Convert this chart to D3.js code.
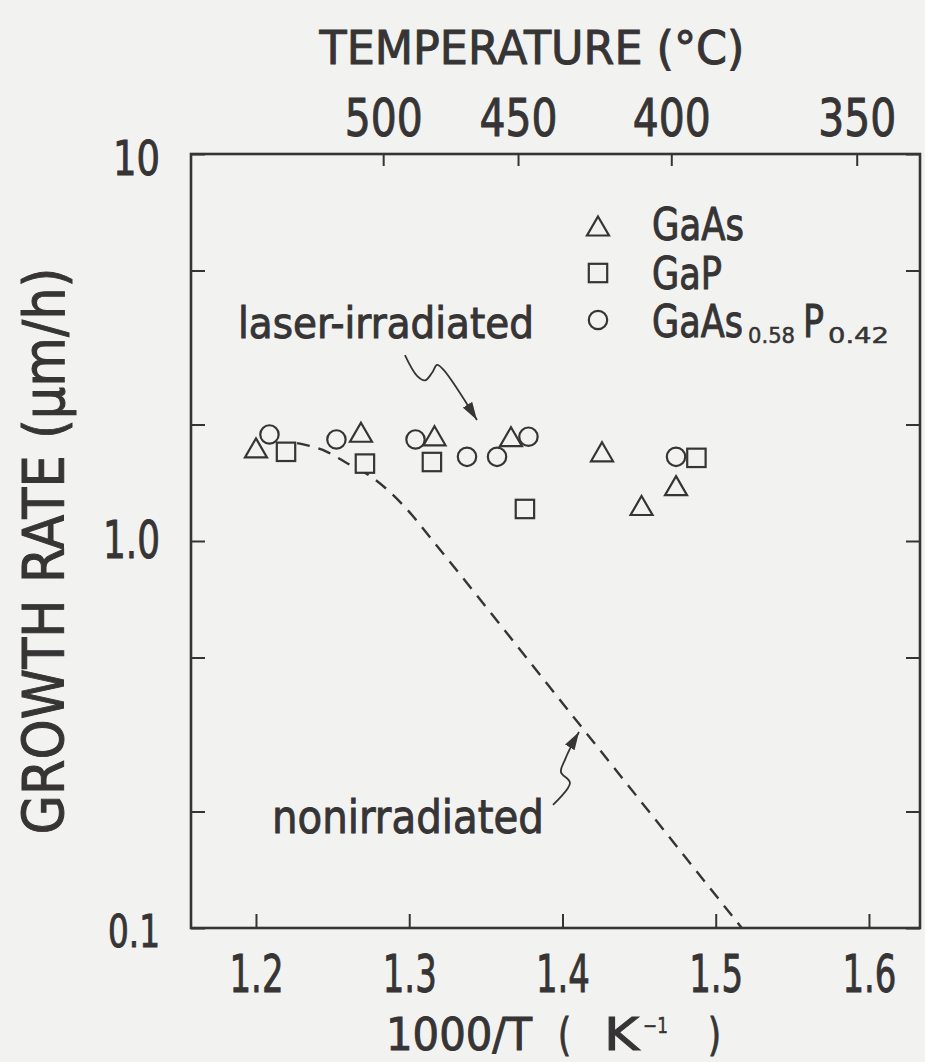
<!DOCTYPE html>
<html>
<head>
<meta charset="utf-8">
<script src="https://cdn.jsdelivr.net/npm/d3@7"></script>
<style>
  html, body { margin: 0; padding: 0; background: #f2f2f0; }
  svg { display: block; }
  text { font-family: "DejaVu Sans", sans-serif; fill: #363434; stroke: #363434; stroke-width: 1px; }
  text.small { stroke-width: 0.5px; }
</style>
</head>
<body>
<svg id="chart" width="925" height="1062"></svg>
<script>
// ── Data: [1000/T (1/K), growth rate (µm/h)] ──
const gaAs = [
  [1.2000, 1.74], [1.2685, 1.91], [1.3165, 1.87], [1.3664, 1.86],
  [1.4258, 1.70], [1.4516, 1.235], [1.4741, 1.39],
];
const gaP = [
  [1.2196, 1.70], [1.2711, 1.585], [1.3148, 1.60], [1.3755, 1.21], [1.4874, 1.64],
];
const gaAsP = [
  [1.2088, 1.885], [1.2525, 1.83], [1.3041, 1.83], [1.3377, 1.65],
  [1.3573, 1.65], [1.3778, 1.86], [1.4741, 1.65],
];
// dashed "nonirradiated" curve
const nonIrradiated = [
  [1.2268, 1.79], [1.2463, 1.70], [1.2581, 1.60], [1.2763, 1.455],
  [1.3018, 1.167], [1.3103, 1.061], [1.41, 0.34], [1.517, 0.1],
];
// annotation arrows (tail -> tip)
const laserArrow = [
  [1.2972, 3.02], [1.3051, 2.67], [1.3103, 2.60], [1.3149, 2.72],
  [1.3181, 2.85], [1.3220, 2.78], [1.3442, 2.054],
];
const nonArrow = [
  [1.3938, 0.208], [1.4049, 0.237], [1.3990, 0.253], [1.4016, 0.272],
  [1.4068, 0.301], [1.4108, 0.321],
];

// ── Axis ticks / labels ──
const xTicks = [1.2, 1.3, 1.4, 1.5, 1.6];
const yTicks = [0.1, 0.2, 0.5, 1, 2, 5, 10];
const yTickLabels = { 0.1: "0.1", 1: "1.0", 10: "10" };
const tempLabels = ["500", "450", "400", "350"];
const tempTickPos = [1.283, 1.371, 1.471, 1.592]; // where the °C ticks sit on the 1000/T axis

const ink = "#363434";
const paper = "#f2f2f0";

const svg = d3.select("#chart");
const frame = { left: 191, right: 920, top: 154, bottom: 928 };

const x = d3.scaleLinear().domain([1.1576, 1.6333]).range([frame.left, frame.right]);
const y = d3.scaleLog().domain([0.1, 10]).range([frame.bottom, frame.top]);

// squeeze text horizontally to a given width (the original lettering is narrow)
function fit(sel, w) {
  sel.each(function () {
    const t = d3.select(this);
    const len = this.getComputedTextLength();
    if (!len) return;
    const s = w / len;
    const tx = +t.attr("x") || 0, ty = +t.attr("y") || 0;
    const prev = t.attr("transform") || "";
    t.attr("transform", `${prev} translate(${tx},${ty}) scale(${s},1) translate(${-tx},${-ty})`);
  });
}

function label(txt, px, py, size, w, cls) {
  return svg.append("text").text(txt)
    .attr("x", px).attr("y", py).attr("font-size", size)
    .attr("class", cls || null)
    .call(fit, w);
}

function styleAxis(g, fontSize) {
  g.select(".domain").remove();
  g.selectAll(".tick line").attr("stroke", ink).attr("stroke-width", 2);
  g.attr("font-family", "DejaVu Sans").attr("font-size", fontSize);
  g.selectAll(".tick text").attr("fill", ink);
}

// ── Bottom axis ──
const gBottom = svg.append("g")
  .attr("transform", `translate(0,${frame.bottom})`)
  .call(d3.axisBottom(x).tickValues(xTicks).tickSize(-14).tickPadding(27)
    .tickFormat(d3.format(".1f")));
styleAxis(gBottom, 52);
gBottom.selectAll(".tick text").each(function () { fit(d3.select(this), 54); });

// ── Top axis (temperature) ──
const gTop = svg.append("g")
  .attr("transform", `translate(0,${frame.top})`)
  .call(d3.axisTop(x).tickValues(tempTickPos).tickSize(-12).tickPadding(18)
    .tickFormat((d, i) => tempLabels[i]));
styleAxis(gTop, 52);
gTop.selectAll(".tick text").each(function () { fit(d3.select(this), 78); });

// ── Left axis ──
const gLeft = svg.append("g")
  .attr("transform", `translate(${frame.left},0)`)
  .call(d3.axisLeft(y).tickValues(yTicks).tickSize(-14).tickPadding(31)
    .tickFormat(d => yTickLabels[d] || ""));
styleAxis(gLeft, 52);
gLeft.selectAll(".tick text").each(function (d) {
  const t = d3.select(this);
  if (d === 10) { t.attr("font-size", 48).attr("dy", "0.42em"); fit(t, 47); }
  else if (d === 1) { fit(t, 57); }
  else if (d === 0.1) { t.attr("font-size", 44).attr("dy", "0.42em"); fit(t, 52); }
});

// ── Right axis (ticks only) ──
const gRight = svg.append("g")
  .attr("transform", `translate(${frame.right},0)`)
  .call(d3.axisRight(y).tickValues(yTicks).tickSize(-14).tickFormat(""));
styleAxis(gRight, 10);

// ── Frame ──
svg.append("rect")
  .attr("x", frame.left).attr("y", frame.top)
  .attr("width", frame.right - frame.left).attr("height", frame.bottom - frame.top)
  .attr("fill", "none").attr("stroke", ink).attr("stroke-width", 2.6);

// ── Axis titles ──
svg.append("text").text("TEMPERATURE (°C)")
  .attr("x", 532).attr("y", 64).attr("text-anchor", "middle")
  .attr("font-size", 47).call(fit, 425);

// 1000/T ( K^-1 ) built from pieces so the superscript sits right
label("1000/T", 386, 1050, 44, 146);
label("(", 558, 1050, 44, 13);
label("K", 604, 1050, 44, 35);
label("−1", 643, 1033, 22, 25, "small");
label(")", 708, 1050, 44, 13);

svg.append("text").text("GROWTH RATE (μm/h)")
  .attr("transform", "translate(64,551) rotate(-90)")
  .attr("text-anchor", "middle")
  .attr("font-size", 57).call(fit, 567);

// ── Dashed nonirradiated curve ──
const line = d3.line().x(d => x(d[0])).y(d => y(d[1]));
svg.append("path")
  .datum(nonIrradiated)
  .attr("d", line.curve(d3.curveMonotoneX))
  .attr("fill", "none").attr("stroke", ink)
  .attr("stroke-width", 2.4).attr("stroke-dasharray", "13,9");

// ── Annotation arrows ──
svg.append("defs").append("marker")
  .attr("id", "head").attr("markerUnits", "userSpaceOnUse")
  .attr("viewBox", "-18 -6 20 12").attr("refX", 0).attr("refY", 0)
  .attr("markerWidth", 20).attr("markerHeight", 12).attr("orient", "auto")
  .append("path").attr("d", "M0,0 L-18,-5.5 L-18,5.5 Z").attr("fill", ink);

const arrowLine = d3.line().x(d => x(d[0])).y(d => y(d[1])).curve(d3.curveCatmullRom);
[laserArrow, nonArrow].forEach(pts => {
  svg.append("path")
    .datum(pts)
    .attr("d", arrowLine)
    .attr("fill", "none").attr("stroke", ink).attr("stroke-width", 1.8)
    .attr("marker-end", "url(#head)");
});

label("laser-irradiated", 238, 338, 43, 296);
label("nonirradiated", 272, 833, 47, 272);

// ── Markers ──
const symbols = {
  triangle: g => g.append("path").attr("d", "M0,-9.5 L11,9.5 L-11,9.5 Z"),
  square: g => g.append("rect").attr("x", -9.2).attr("y", -9.2).attr("width", 18.4).attr("height", 18.4),
  circle: g => g.append("circle").attr("r", 9.2),
};

function drawSeries(data, shape) {
  svg.append("g").selectAll("g")
    .data(data).join("g")
    .attr("transform", d => `translate(${x(d[0])},${y(d[1])})`)
    .each(function () {
      symbols[shape](d3.select(this))
        .attr("fill", paper).attr("stroke", ink).attr("stroke-width", 2.2);
    });
}
drawSeries(gaP, "square");
drawSeries(gaAsP, "circle");
drawSeries(gaAs, "triangle");

// ── Legend ──
[["triangle", 226], ["square", 273], ["circle", 320]].forEach(([shape, ly]) => {
  const g = svg.append("g").attr("transform", `translate(598,${ly})`);
  symbols[shape](g).attr("fill", "none").attr("stroke", ink).attr("stroke-width", 2.2);
});
label("GaAs", 652, 240, 44, 92);
label("GaP", 652, 289, 44, 70);
label("GaAs", 652, 337, 44, 91);
label("0.58", 748, 343, 21, 47, "small");
label("P", 803, 337, 44, 21);
label("0.42", 828, 343, 21, 61, "small");
</script>
</body>
</html>
